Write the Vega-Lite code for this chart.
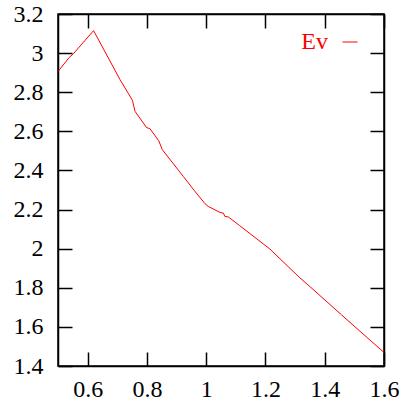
{
  "$schema": "https://vega.github.io/schema/vega-lite/v6.json",
  "width": 326,
  "height": 352,
  "autosize": {"type": "none"},
  "padding": {"left": 58, "top": 14, "right": 17, "bottom": 39},
  "config": {
    "font": "Liberation Serif",
    "view": {"stroke": "black", "strokeWidth": 1.5},
    "axis": {
      "labelFont": "Liberation Serif",
      "labelFontSize": 24,
      "labelColor": "black",
      "domainColor": "black",
      "domainWidth": 1.5,
      "tickColor": "black",
      "tickWidth": 1.5,
      "grid": false,
      "title": null,
      "labelOverlap": false,
      "labelFlush": false,
      "labelBound": false
    }
  },
  "data": {
    "values": [
      {"x": 0.5, "y": 2.906, "series": "Ev"},
      {"x": 0.538, "y": 2.978, "series": "Ev"},
      {"x": 0.551, "y": 2.995, "series": "Ev"},
      {"x": 0.62, "y": 3.115, "series": "Ev"},
      {"x": 0.709, "y": 2.865, "series": "Ev"},
      {"x": 0.751, "y": 2.759, "series": "Ev"},
      {"x": 0.76, "y": 2.702, "series": "Ev"},
      {"x": 0.799, "y": 2.619, "series": "Ev"},
      {"x": 0.81, "y": 2.614, "series": "Ev"},
      {"x": 0.84, "y": 2.552, "series": "Ev"},
      {"x": 0.852, "y": 2.506, "series": "Ev"},
      {"x": 0.923, "y": 2.369, "series": "Ev"},
      {"x": 0.96, "y": 2.297, "series": "Ev"},
      {"x": 0.996, "y": 2.23, "series": "Ev"},
      {"x": 1.007, "y": 2.216, "series": "Ev"},
      {"x": 1.047, "y": 2.185, "series": "Ev"},
      {"x": 1.058, "y": 2.182, "series": "Ev"},
      {"x": 1.063, "y": 2.165, "series": "Ev"},
      {"x": 1.075, "y": 2.162, "series": "Ev"},
      {"x": 1.112, "y": 2.119, "series": "Ev"},
      {"x": 1.215, "y": 1.998, "series": "Ev"},
      {"x": 1.316, "y": 1.851, "series": "Ev"},
      {"x": 1.35, "y": 1.806, "series": "Ev"},
      {"x": 1.457, "y": 1.661, "series": "Ev"},
      {"x": 1.6, "y": 1.469, "series": "Ev"}
    ]
  },
  "layer": [
    {
      "mark": {"type": "line", "strokeWidth": 1},
      "encoding": {
        "x": {
          "field": "x", "type": "quantitative",
          "scale": {"domain": [0.5, 1.6], "nice": false, "zero": false},
          "axis": {"orient": "bottom", "values": [0.6, 0.8, 1, 1.2, 1.4, 1.6], "format": ".2~f", "tickSize": -14, "labelPadding": 25}
        },
        "y": {
          "field": "y", "type": "quantitative",
          "scale": {"domain": [1.4, 3.2], "nice": false, "zero": false},
          "axis": {"orient": "left", "values": [1.4, 1.6, 1.8, 2, 2.2, 2.4, 2.6, 2.8, 3, 3.2], "format": ".2~f", "tickSize": -14, "labelPadding": 29}
        },
        "color": {
          "field": "series", "type": "nominal",
          "scale": {"range": ["red"]},
          "legend": {
            "orient": "none", "legendX": 280, "legendY": 16, "title": null,
            "symbolType": "stroke", "symbolSize": 225, "symbolStrokeWidth": 1,
            "labelFont": "Liberation Serif", "labelFontSize": 24, "labelColor": "red",
            "labelOffset": -34, "labelAlign": "right", "padding": 0, "symbolOffset": 0
          }
        }
      }
    },
    {
      "mark": {"type": "line", "opacity": 0},
      "encoding": {
        "x": {
          "field": "x", "type": "quantitative",
          "axis": {"orient": "top", "values": [0.6, 0.8, 1, 1.2, 1.4, 1.6], "labels": false, "tickSize": -14}
        },
        "y": {
          "field": "y", "type": "quantitative",
          "axis": {"orient": "right", "values": [1.4, 1.6, 1.8, 2, 2.2, 2.4, 2.6, 2.8, 3, 3.2], "labels": false, "tickSize": -14}
        }
      }
    }
  ],
  "resolve": {"axis": {"x": "independent", "y": "independent"}}
}
